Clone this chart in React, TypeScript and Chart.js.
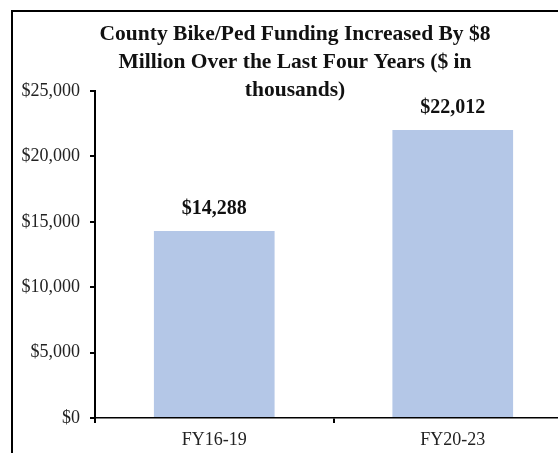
import React, { useEffect, useRef } from "react";
import { Chart, registerables } from "chart.js";

Chart.register(...registerables);

const categories = ["FY16-19", "FY20-23"];
const funding = [14288, 22012];
const titleLines = [
  "County Bike/Ped Funding Increased By $8",
  "Million Over the Last Four Years ($ in",
  "thousands)",
];
const yMin = 0;
const yMax = 25000;
const yStep = 5000;

const SERIF = "'Liberation Serif', 'Times New Roman', serif";

const fmt = (v: number) => "$" + v.toLocaleString("en-US");

const titlePlugin = {
  id: "serifTitle",
  afterDraw(chart: any) {
    const ctx = chart.ctx;
    ctx.save();
    ctx.font = `bold 21.5px ${SERIF}`;
    ctx.fillStyle = "#111";
    ctx.textAlign = "center";
    ctx.textBaseline = "middle";
    const cx = 295;
    titleLines.forEach((line, i) => {
      ctx.fillText(line, cx, 34 + i * 28);
    });
    ctx.restore();
  },
};

const valueLabels = {
  id: "valueLabels",
  afterDatasetsDraw(chart: any) {
    const ctx = chart.ctx;
    const meta = chart.getDatasetMeta(0);
    ctx.save();
    ctx.font = `bold 20px ${SERIF}`;
    ctx.fillStyle = "#111";
    ctx.textAlign = "center";
    ctx.textBaseline = "bottom";
    meta.data.forEach((bar: any, i: number) => {
      ctx.fillText(fmt(funding[i]), bar.x, bar.y - 12);
    });
    ctx.restore();
  },
};

export default function App() {
  const ref = useRef<HTMLCanvasElement>(null);
  useEffect(() => {
    if (!ref.current) return;
    const chart = new Chart(ref.current, {
      type: "bar",
      data: {
        labels: categories,
        datasets: [
          {
            data: funding,
            backgroundColor: "#b4c7e7",
            borderWidth: 0,
            categoryPercentage: 1,
            barPercentage: 0.506,
          },
        ],
      },
      options: {
        animation: false,
        responsive: false,
        maintainAspectRatio: false,
        layout: { padding: { top: 91, left: 0, right: 12, bottom: 0 } },
        plugins: {
          legend: { display: false },
          title: { display: false },
          tooltip: { enabled: false },
        },
        scales: {
          x: {
            offset: true,
            grid: {
              offset: true,
              drawOnChartArea: false,
              drawTicks: true,
              tickLength: 5,
              color: "#000",
              lineWidth: 2,
            },
            border: { display: true, color: "#000", width: 1.5 },
            ticks: {
              color: "#222",
              font: { family: SERIF, size: 18 },
              padding: 6,
            },
            afterFit: (s: any) => {
              s.height = 35;
            },
          },
          y: {
            min: yMin,
            max: yMax,
            grid: {
              drawOnChartArea: false,
              drawTicks: true,
              tickLength: 5,
              color: "#000",
              lineWidth: 2,
            },
            border: { display: true, color: "#000", width: 2 },
            ticks: {
              stepSize: yStep,
              color: "#222",
              font: { family: SERIF, size: 18 },
              padding: 10,
              callback: (v: any) => fmt(Number(v)),
            },
            afterFit: (s: any) => {
              s.width = 95;
            },
          },
        },
      },
      plugins: [titlePlugin, valueLabels],
    });
    return () => chart.destroy();
  }, []);

  return (
    <div
      style={{
        position: "fixed",
        left: 0,
        top: 0,
        width: 558,
        height: 453,
        overflow: "hidden",
        background: "#fff",
      }}
    >
      <div
        style={{
          position: "absolute",
          left: 11,
          top: 10,
          width: 700,
          height: 600,
          borderLeft: "2px solid #000",
          borderTop: "2px solid #000",
        }}
      />
      <canvas
        ref={ref}
        width={584}
        height={453}
        style={{ position: "absolute", left: 0, top: 0, width: 584, height: 453 }}
      />
    </div>
  );
}
